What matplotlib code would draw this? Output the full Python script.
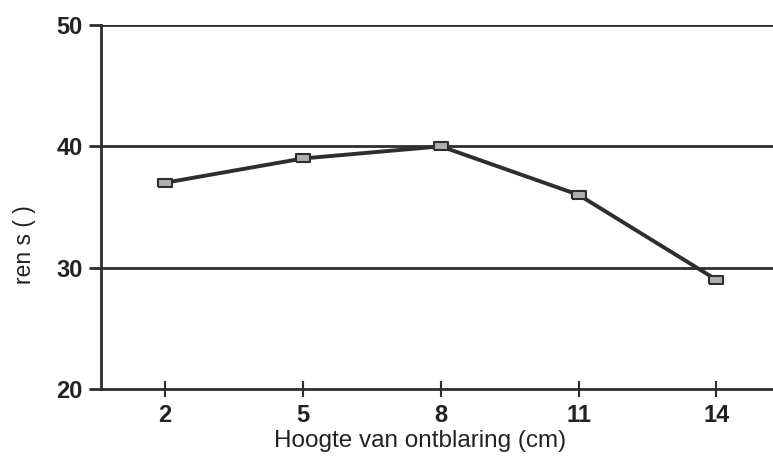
import matplotlib.pyplot as plt
import numpy as np

heights = ["2", "5", "8", "11", "14"]
values = [37, 39, 40, 36, 29]
y_ticks = [20, 30, 40, 50]

plt.rcParams['font.family'] = ['Liberation Sans', 'DejaVu Sans']

fig = plt.figure(figsize=(7.73, 4.59), dpi=100)
ax = fig.add_axes([101 / 773, 1 - 389 / 459, 1 - 101 / 773, (389 - 25) / 459])

x = np.arange(len(heights))
dark = '#2e2e2e'

# horizontal grid lines
for yv in y_ticks[1:]:
    ax.axhline(yv, color=dark, lw=2.0, zorder=1)

# wide rectangle marker like the scanned original
rect = [(-1, -0.6), (1, -0.6), (1, 0.6), (-1, 0.6), (-1, -0.6)]
ax.plot(x, values, color=dark, lw=2.8, marker=rect, markersize=9.5,
        markerfacecolor='#b0b0b0', markeredgecolor=dark, markeredgewidth=1.5,
        zorder=3, clip_on=False)

ax.set_xlim(-0.465, 4.41)
ax.set_ylim(20, 50)
ax.set_xticks(x)
ax.set_xticklabels(heights)
ax.set_yticks(y_ticks)

for s in ['top', 'right']:
    ax.spines[s].set_visible(False)
for s in ['left', 'bottom']:
    ax.spines[s].set_color(dark)
    ax.spines[s].set_linewidth(2.0)

ax.tick_params(axis='y', direction='out', length=9, width=2, color=dark,
               labelsize=17, pad=4, labelcolor='#222222')
ax.tick_params(axis='x', direction='inout', length=12, width=1.5, color=dark,
               labelsize=17, pad=5, labelcolor='#222222')
for lab in ax.get_xticklabels() + ax.get_yticklabels():
    lab.set_fontweight('bold')

fig.text(420 / 773, 1 - 441 / 459, "Hoogte van ontblaring (cm)", fontsize=17.5,
         color='#222222', ha='center', va='center')
fig.text(25 / 773, 1 - 245 / 459, "ren s ( )", rotation=90, fontsize=16.5,
         color='#222222', ha='center', va='center')

fig.savefig("out.png", dpi=100)
